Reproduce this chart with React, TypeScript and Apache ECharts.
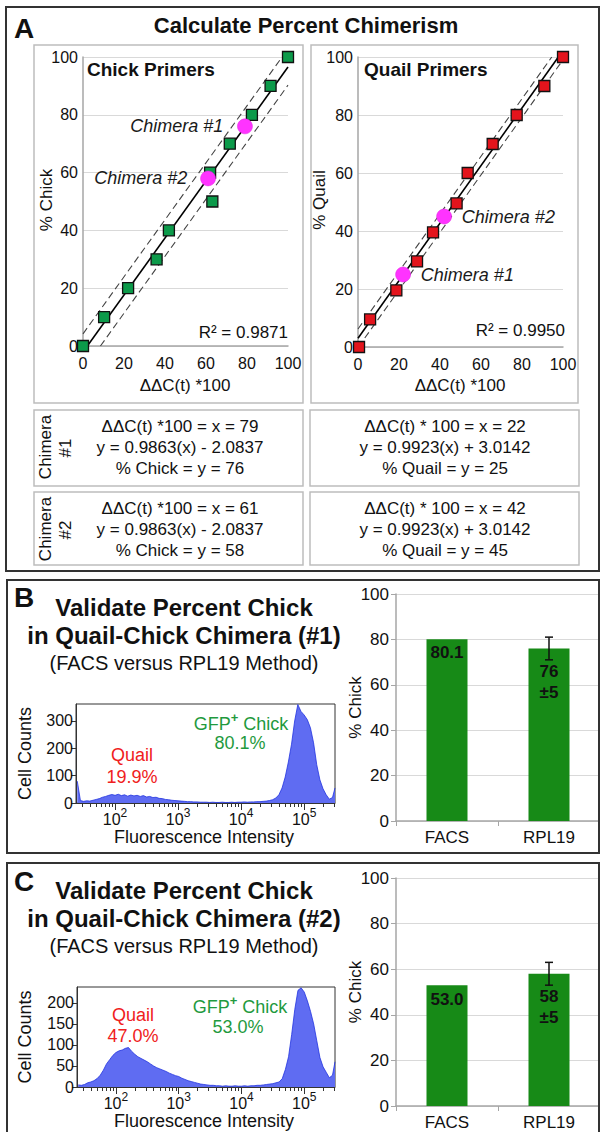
import React, { useEffect, useRef } from 'react';
import * as echarts from 'echarts';

const FONT = '"Liberation Sans", Arial, Helvetica, sans-serif';

// ---------- Panel A : standard curves ----------
const chickStdX = [0, 10.3, 22, 35.9, 41.9, 63.1, 62, 71.6, 82.4, 91.5, 100];
const chickStdY = [0, 10, 20, 30, 40, 50, 60, 70, 80, 90, 100];
const chickChimeraX = [79, 61];
const chickChimeraY = [76, 58];
const chickSlope = 0.9863;
const chickIntercept = -2.0837;
const chickBand = 6.3;
const chickR2 = '0.9871';

const quailStdX = [0.5, 5.9, 18.7, 28.8, 36.6, 48.1, 53.5, 65.7, 77.4, 90.9, 100];
const quailStdY = [0, 9.5, 19.5, 29.5, 39.5, 49.5, 60, 70, 80, 90, 100];
const quailChimeraX = [22, 42];
const quailChimeraY = [25, 45];
const quailSlope = 0.9923;
const quailIntercept = 3.0142;
const quailBand = 3.2;
const quailR2 = '0.9950';

const chimeraNames = ['Chimera #1', 'Chimera #2'];

// ---------- Panels B / C : FACS histograms ----------
const histStart = 1.4;
const histStep = 0.05;
const histCountsB = [
  80, 9, 6, 8, 7, 10, 13, 16, 21, 24,
  28, 31, 28, 32, 27, 30, 25, 29, 26, 28,
  24, 27, 22, 24, 20, 21, 17, 16, 13, 12,
  10, 9, 8, 7, 6, 5, 5, 4, 4, 3,
  3, 3, 2, 3, 2, 2, 3, 2, 2, 3,
  2, 3, 3, 4, 3, 4, 4, 5, 5, 6,
  7, 9, 12, 18, 30, 55, 95, 150, 215, 300,
  360, 335, 322, 305, 275, 220, 140, 85, 52, 30,
  14, 20,
];
const histCountsC = [
  5, 4, 6, 10, 12, 15, 20, 28, 40, 55,
  65, 75, 82, 86, 88, 92, 94, 85, 78, 72,
  68, 64, 60, 55, 50, 46, 43, 40, 37, 33,
  30, 27, 25, 21, 18, 15, 13, 11, 9, 7,
  6, 5, 4, 4, 3, 3, 2, 3, 2, 2,
  3, 2, 2, 3, 2, 3, 3, 4, 4, 5,
  6, 7, 8, 10, 12, 20, 42, 72, 125, 185,
  230, 236, 226, 205, 180, 150, 110, 70, 48, 35,
  22, 28,
];
const histEdgeLog = 5.49;
const histEdgeB = 55;
const histEdgeC = 60;
const histLogMin = 1.38;
const histLogMax = 5.49;
const histDecades = [2, 3, 4, 5];
const histYTicksB = [0, 100, 200, 300];
const histYMaxB = 362;
const histYTicksC = [0, 50, 100, 150, 200];
const histYMaxC = 238;

// ---------- Panels B / C : bar charts ----------
const barCats = ['FACS', 'RPL19'];
const barValsB = [80.1, 76];
const barErrB = [0, 5];
const barValsC = [53.0, 58];
const barErrC = [0, 5];

// ---------- helpers ----------
function clipLine(slope: number, intercept: number) {
  let x0 = 0;
  let y0 = intercept;
  if (y0 < 0) { x0 = -intercept / slope; y0 = 0; }
  let x1 = 100;
  let y1 = slope * 100 + intercept;
  if (y1 > 100) { x1 = (100 - intercept) / slope; y1 = 100; }
  return [[x0, y0], [x1, y1]];
}

function histData(counts: number[], edge: number) {
  const d: number[][] = counts.map((c, i) => [+(histStart + i * histStep).toFixed(2), c]);
  d.push([histEdgeLog, edge]);
  return d;
}

const minorTicks: number[] = [];
for (let n = 1; n <= 5; n++) {
  for (let k = 2; k <= 9; k++) {
    const v = Math.log10(k * Math.pow(10, n));
    if (v > histLogMin && v < histLogMax) minorTicks.push(v);
  }
}

function txt(text: string, x: number, y: number, o: any = {}) {
  return {
    type: 'text',
    x,
    y,
    rotation: o.rot || 0,
    silent: true,
    z: 100,
    style: {
      text,
      fill: o.color || '#111',
      fontSize: o.size || 16,
      fontFamily: FONT,
      fontWeight: o.weight || 'normal',
      fontStyle: o.italic ? 'italic' : 'normal',
      align: o.align || 'center',
      textAlign: o.align || 'center',
      verticalAlign: 'middle',
      textVerticalAlign: 'middle',
      lineHeight: o.lh,
      rich: o.rich,
    },
  };
}

function box(x: number, y: number, w: number, h: number, color: string, lw: number) {
  return {
    type: 'rect',
    silent: true,
    z: 90,
    shape: { x, y, width: w, height: h },
    style: { fill: 'none', stroke: color, lineWidth: lw },
  };
}

const supRich = {
  b: { fontSize: 16, fontFamily: FONT, color: '#111', lineHeight: 20, verticalAlign: 'bottom' },
  s: { fontSize: 12, fontFamily: FONT, color: '#111', lineHeight: 20, verticalAlign: 'top' },
};

const GFP_GREEN = '#1f9a3e';
const gfpRich = {
  a: { fontSize: 18, fontFamily: FONT, fill: GFP_GREEN, color: GFP_GREEN, lineHeight: 22, verticalAlign: 'bottom' },
  s: { fontSize: 13, fontFamily: FONT, fill: GFP_GREEN, color: GFP_GREEN, lineHeight: 22, verticalAlign: 'top', fontWeight: 'bold' },
};

function scatterX(gridIndex: number) {
  return {
    type: 'value', gridIndex, min: 0, max: 100, interval: 20,
    axisLine: { show: true, onZero: false, lineStyle: { color: '#a6a6a6', width: 1.5 } },
    axisTick: { show: false },
    axisLabel: { fontSize: 16, color: '#111', fontFamily: FONT, margin: 9 },
    splitLine: { show: false },
  };
}
function scatterY(gridIndex: number) {
  return {
    type: 'value', gridIndex, min: 0, max: 100, interval: 20,
    axisLine: { show: true, onZero: false, lineStyle: { color: '#a6a6a6', width: 1.5 } },
    axisTick: { show: false },
    axisLabel: { fontSize: 16, color: '#111', fontFamily: FONT, margin: 5 },
    splitLine: { show: true, lineStyle: { color: '#d9d9d9', width: 1 } },
  };
}
function histMajorX(gridIndex: number) {
  return {
    type: 'value', gridIndex, position: 'bottom', min: histLogMin, max: histLogMax,
    axisLine: { show: true, onZero: false, lineStyle: { color: '#333', width: 1 } },
    axisTick: { show: true, length: 7, customValues: histDecades, lineStyle: { color: '#333' } },
    axisLabel: {
      show: true, customValues: histDecades, margin: 4,
      formatter: (v: number) => `{b|10}{s|${Math.round(v)}}`,
      rich: supRich,
    },
    splitLine: { show: false },
  };
}
function histMinorX(gridIndex: number) {
  return {
    type: 'value', gridIndex, position: 'bottom', min: histLogMin, max: histLogMax,
    axisLine: { show: false },
    axisTick: { show: true, length: 4, customValues: minorTicks, lineStyle: { color: '#333' } },
    axisLabel: { show: false },
    splitLine: { show: false },
  };
}
function histY(gridIndex: number, max: number, ticks: number[]) {
  return {
    type: 'value', gridIndex, min: 0, max,
    axisLine: { show: true, lineStyle: { color: '#333', width: 1 } },
    axisTick: { show: true, length: 5, customValues: ticks, lineStyle: { color: '#333' } },
    axisLabel: { customValues: ticks, fontSize: 16, color: '#111', fontFamily: FONT, margin: 3 },
    splitLine: { show: false },
  };
}
function barX(gridIndex: number) {
  return {
    type: 'category', gridIndex, data: barCats,
    axisLine: { show: true, lineStyle: { color: '#a6a6a6', width: 1.5 } },
    axisTick: { show: true, length: 5, lineStyle: { color: '#a6a6a6' } },
    axisLabel: { fontSize: 17, color: '#111', fontFamily: FONT, margin: 8 },
    splitLine: { show: false },
  };
}
function barY(gridIndex: number) {
  return {
    type: 'value', gridIndex, min: 0, max: 100, interval: 20,
    axisLine: { show: true, lineStyle: { color: '#a6a6a6', width: 1.5 } },
    axisTick: { show: true, length: 5, lineStyle: { color: '#a6a6a6' } },
    axisLabel: { fontSize: 17, color: '#111', fontFamily: FONT, margin: 7 },
    splitLine: { show: true, lineStyle: { color: '#d9d9d9', width: 1 } },
  };
}

function regressionSeries(axisIndex: number, slope: number, intercept: number, band: number) {
  const common = { type: 'line', xAxisIndex: axisIndex, yAxisIndex: axisIndex, symbol: 'none', silent: true, z: 2 };
  return [
    { ...common, data: clipLine(slope, intercept), lineStyle: { color: '#000', width: 1.6 } },
    { ...common, data: clipLine(slope, intercept + band), lineStyle: { color: '#444', width: 1.1, type: [7, 4] } },
    { ...common, data: clipLine(slope, intercept - band), lineStyle: { color: '#444', width: 1.1, type: [7, 4] } },
  ];
}

function stdSeries(axisIndex: number, xs: number[], ys: number[], color: string) {
  return {
    type: 'scatter', xAxisIndex: axisIndex, yAxisIndex: axisIndex, z: 3,
    symbol: 'rect', symbolSize: 11,
    itemStyle: { color, borderColor: '#111', borderWidth: 1.3, opacity: 1 },
    data: xs.map((x, i) => [x, ys[i]]),
  };
}

function chimeraSeries(axisIndex: number, xs: number[], ys: number[], pos: string, distances: number[]) {
  return {
    type: 'scatter', xAxisIndex: axisIndex, yAxisIndex: axisIndex, z: 4,
    symbol: 'circle', symbolSize: 15,
    itemStyle: { color: '#ff33ff', borderColor: '#e020e0', borderWidth: 0.5, opacity: 1 },
    data: xs.map((x, i) => ({
      value: [x, ys[i]],
      label: {
        show: true, position: pos, distance: distances[i],
        formatter: chimeraNames[i],
        fontSize: 18, fontStyle: 'italic', color: '#1a1a1a', fontFamily: FONT, opacity: 1,
      },
    })),
  };
}

function barSeries(axisIndex: number, yIndex: number, vals: number[], errs: number[], dists: number[]) {
  return {
    type: 'bar', xAxisIndex: axisIndex, yAxisIndex: yIndex, barWidth: 41,
    itemStyle: { color: '#178a17' },
    data: vals.map((v, i) => ({
      value: v,
      label: {
        show: true, position: 'insideTop', distance: dists[i],
        formatter: errs[i] ? `${v}\n±${errs[i]}` : v.toFixed(1),
        fontSize: 17, fontWeight: 'bold', color: '#111', fontFamily: FONT, lineHeight: 21,
      },
    })),
  };
}

function errSeries(axisIndex: number, yIndex: number, vals: number[], errs: number[]) {
  return {
    type: 'custom', xAxisIndex: axisIndex, yAxisIndex: yIndex, z: 5,
    data: vals.map((v, i) => [i, v - errs[i], v + errs[i]]).filter((d, i) => errs[i] > 0),
    renderItem: (params: any, api: any) => {
      const lo = api.coord([api.value(0), api.value(1)]);
      const hi = api.coord([api.value(0), api.value(2)]);
      const w = 4;
      const st = { stroke: '#111', lineWidth: 1.5 };
      return {
        type: 'group',
        children: [
          { type: 'line', shape: { x1: lo[0], y1: lo[1], x2: hi[0], y2: hi[1] }, style: st },
          { type: 'line', shape: { x1: lo[0] - w, y1: lo[1], x2: lo[0] + w, y2: lo[1] }, style: st },
          { type: 'line', shape: { x1: hi[0] - w, y1: hi[1], x2: hi[0] + w, y2: hi[1] }, style: st },
        ],
      };
    },
  };
}

function histSeries(xIndex: number, yIndex: number, counts: number[], edge: number) {
  return {
    type: 'line', xAxisIndex: xIndex, yAxisIndex: yIndex, symbol: 'none', silent: true,
    data: histData(counts, edge),
    lineStyle: { color: '#2233e0', width: 0.8 },
    areaStyle: { color: '#5f6cf2', opacity: 1 },
  };
}

function fmt(n: number) {
  return n.toFixed(4);
}

export default function App() {
  const ref = useRef<HTMLDivElement>(null);

  useEffect(() => {
    if (!ref.current) return;
    const chart = echarts.init(ref.current, undefined, { renderer: 'svg' });

    const chickEq = `y = ${fmt(chickSlope)}(x) ${chickIntercept < 0 ? '-' : '+'} ${fmt(Math.abs(chickIntercept))}`;
    const quailEq = `y = ${fmt(quailSlope)}(x) ${quailIntercept < 0 ? '-' : '+'} ${fmt(Math.abs(quailIntercept))}`;

    const tableRows = [0, 1].map((i) => {
      const y0 = i === 0 ? 426 : 508;
      return [
        txt(`ΔΔC(t) *100 = x = ${chickChimeraX[i]}`, 180, y0, { size: 17 }),
        txt(chickEq, 180, y0 + 21, { size: 17 }),
        txt(`% Chick = y = ${chickChimeraY[i]}`, 180, y0 + 42, { size: 17 }),
        txt(`ΔΔC(t) * 100 = x = ${quailChimeraX[i]}`, 445, y0, { size: 17 }),
        txt(quailEq, 445, y0 + 21, { size: 17 }),
        txt(`% Quail = y = ${quailChimeraY[i]}`, 445, y0 + 42, { size: 17 }),
        txt('Chimera', 45, y0 + 21, { size: 17, rot: Math.PI / 2 }),
        txt(`#${i + 1}`, 65, y0 + 22, { size: 17, rot: Math.PI / 2 }),
      ];
    }).flat();

    const panelText = (top: number, num: string, histTop: number, histBottom: number, barTop: number, barBottom: number) => [
      txt('Validate Percent Chick', 184, top, { size: 24, weight: 'bold' }),
      txt(`in Quail-Chick Chimera (#${num})`, 184, top + 28, { size: 24, weight: 'bold' }),
      txt('(FACS versus RPL19 Method)', 184, top + 56, { size: 20 }),
      txt('Cell Counts', 25, (histTop + histBottom) / 2, { size: 18, rot: Math.PI / 2 }),
      txt('Fluorescence Intensity', 204, histBottom + 34, { size: 18 }),
      txt('% Chick', 355, (barTop + barBottom) / 2, { size: 17, rot: Math.PI / 2 }),
    ];

    const option: any = {
      animation: false,
      textStyle: { fontFamily: FONT },
      grid: [
        { left: 83, top: 57, width: 205, height: 289, outerBoundsMode: 'none' },
        { left: 358, top: 57, width: 205, height: 290, outerBoundsMode: 'none' },
        { left: 76, top: 704, width: 259, height: 99, show: true, borderColor: '#333', borderWidth: 1, backgroundColor: 'transparent', outerBoundsMode: 'none' },
        { left: 396, top: 594, width: 204, height: 227, outerBoundsMode: 'none' },
        { left: 77, top: 987, width: 258, height: 100, show: true, borderColor: '#333', borderWidth: 1, backgroundColor: 'transparent', outerBoundsMode: 'none' },
        { left: 396, top: 878, width: 204, height: 228, outerBoundsMode: 'none' },
      ],
      xAxis: [
        scatterX(0),
        scatterX(1),
        histMajorX(2),
        histMinorX(2),
        barX(3),
        histMajorX(4),
        histMinorX(4),
        barX(5),
      ],
      yAxis: [
        scatterY(0),
        scatterY(1),
        histY(2, histYMaxB, histYTicksB),
        barY(3),
        histY(4, histYMaxC, histYTicksC),
        barY(5),
      ],
      series: [
        ...regressionSeries(0, chickSlope, chickIntercept, chickBand),
        stdSeries(0, chickStdX, chickStdY, '#0c9a4a'),
        chimeraSeries(0, chickChimeraX, chickChimeraY, 'left', [14, 13]),
        ...regressionSeries(1, quailSlope, quailIntercept, quailBand),
        stdSeries(1, quailStdX, quailStdY, '#e3141c'),
        chimeraSeries(1, quailChimeraX, quailChimeraY, 'right', [10, 10]),
        histSeries(2, 2, histCountsB, histEdgeB),
        barSeries(4, 3, barValsB, barErrB, [3, 13]),
        errSeries(4, 3, barValsB, barErrB),
        histSeries(5, 4, histCountsC, histEdgeC),
        barSeries(7, 5, barValsC, barErrC, [4, 12]),
        errSeries(7, 5, barValsC, barErrC),
      ],
      graphic: [
        // frames
        box(6, 7, 593, 564, '#333', 2),
        box(7, 580, 592, 273, '#333', 2),
        box(7, 863, 592, 290, '#333', 2),
        box(34, 45, 269, 358, '#bdbdbd', 1.5),
        box(311, 45, 267, 358, '#bdbdbd', 1.5),
        box(34, 410, 269, 76, '#bdbdbd', 1.5),
        box(310, 410, 269, 76, '#bdbdbd', 1.5),
        box(34, 492, 269, 73, '#bdbdbd', 1.5),
        box(310, 492, 269, 73, '#bdbdbd', 1.5),
        // panel A texts
        txt('A', 24, 28, { size: 28, weight: 'bold' }),
        txt('Calculate Percent Chimerism', 306, 25, { size: 22, weight: 'bold' }),
        txt('Chick Primers', 87, 69, { size: 19, weight: 'bold', align: 'left' }),
        txt('Quail Primers', 364, 69, { size: 19, weight: 'bold', align: 'left' }),
        txt(`R² = ${chickR2}`, 288, 332, { size: 17, align: 'right' }),
        txt(`R² = ${quailR2}`, 565, 330, { size: 17, align: 'right' }),
        txt('% Chick', 46, 200, { size: 17, rot: Math.PI / 2 }),
        txt('% Quail', 319, 200, { size: 17, rot: Math.PI / 2 }),
        txt('ΔΔC(t) *100', 185, 385, { size: 17 }),
        txt('ΔΔC(t) *100', 460, 385, { size: 17 }),
        ...tableRows,
        // panel B
        txt('B', 24, 597, { size: 28, weight: 'bold' }),
        ...panelText(607, '1', 704, 803, 594, 821),
        txt('Quail', 132, 755, { size: 18, color: '#f02020' }),
        txt('19.9%', 132, 777, { size: 18, color: '#f02020' }),
        txt('{a|GFP}{s|+}{a| Chick}', 241, 722, { size: 18, color: GFP_GREEN, rich: gfpRich }),
        txt('80.1%', 240, 743, { size: 18, color: GFP_GREEN }),
        // panel C
        txt('C', 24, 881, { size: 28, weight: 'bold' }),
        ...panelText(890, '2', 987, 1087, 878, 1106),
        txt('Quail', 133, 1015, { size: 18, color: '#f02020' }),
        txt('47.0%', 133, 1036, { size: 18, color: '#f02020' }),
        txt('{a|GFP}{s|+}{a| Chick}', 240, 1005, { size: 18, color: GFP_GREEN, rich: gfpRich }),
        txt('53.0%', 238, 1027, { size: 18, color: GFP_GREEN }),
      ],
    };

    chart.setOption(option);
    return () => chart.dispose();
  }, []);

  return (
    <div
      ref={ref}
      style={{ position: 'absolute', left: 0, top: 0, width: 600, height: 1132, background: '#fff' }}
    />
  );
}
